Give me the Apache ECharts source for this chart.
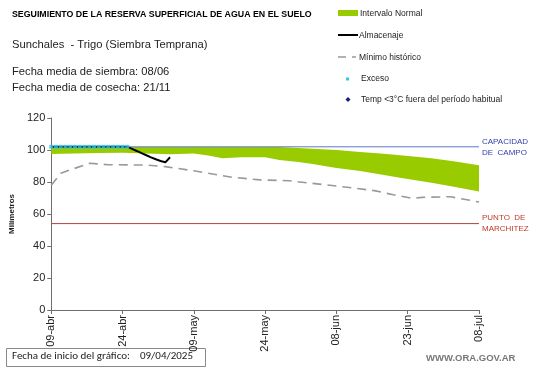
<!DOCTYPE html>
<html><head><meta charset="utf-8">
<script src="https://cdn.jsdelivr.net/npm/echarts@6/dist/echarts.min.js"></script>
<style>html,body{margin:0;padding:0;background:#fff}#c{width:541px;height:368px}</style>
</head><body><div id="c"></div>
<script>
// x axis: days since 09/04/2025
const tickLabels = ['09-abr','24-abr','09-may','24-may','08-jun','23-jun','08-jul'];
const tickStep = 15;

// Intervalo normal (green band)
const bandDays  = [0,5,10,15,20,25,30,33,36,40,45,48,52,55,60,65,70,74,80,85,90];
const bandLower = [97.5,97.8,98.2,98.3,97.8,97.3,97.8,96.5,94.8,95.4,95.4,93.8,92.5,91.3,88.8,86.8,84.3,82.3,79.5,76.8,74];
const bandUpper = [101.8,101.8,101.8,101.8,101.8,101.8,101.8,101.8,101.8,101.8,101.8,101.8,101.3,100.8,100,98.8,97.6,96.5,94.8,92.8,90.5];

// Mínimo histórico
const minDays = [0,2,8,12,20,24,30,38,44,50,60,68,72,76,78,84,90];
const minVals = [78,85.5,91.7,90.8,90.6,89.6,87,83,81.3,80.8,77.5,74.6,72,69.8,70.4,70.8,67.5];

// Almacenaje
const almDays = [0,1,2,3,4,5,6,7,8,9,10,11,12,13,14,15,16,17,18,19,20,21,22,23,24,25];
const almVals = [102,102,102,102,102,102,102,102,102,102,102,102,102,102,102,102,102,100.7,99.4,98,96.7,95.4,94.2,93.1,92.3,95.5];

// Exceso
const excesoDays = [0,1,2,3,4,5,6,7,8,9,10,11,12,13,14,15,16];
const excesoVals = [102,102,102,102,102,102,102,102,102,102,102,102,102,102,102,102,102];

// reference levels
const refDays = [0, 90];
const capacidadCampo = 102;
const puntoMarchitez = 54;

const zip = (a, b) => a.map((v, i) => [v, b[i]]);
const F = 'Liberation Sans, Arial, sans-serif';

const chart = echarts.init(document.getElementById('c'), null, {renderer: 'canvas'});
chart.setOption({
  animation: false,
  backgroundColor: '#fff',
  grid: {left: 33, right: 62, top: 118, bottom: 58, containLabel: false},
  xAxis: {
    type: 'value', min: 0, max: 90, interval: tickStep,
    axisLine: {show: true, lineStyle: {color: '#6e6e6e', width: 1}},
    axisTick: {show: true, length: 4, lineStyle: {color: '#6e6e6e'}},
    splitLine: {show: false},
    axisLabel: {
      rotate: 90, margin: 5, fontSize: 11, fontFamily: F, color: '#222',
      formatter: v => tickLabels[Math.round(v / tickStep)] || ''
    }
  },
  yAxis: {
    type: 'value', min: 0, max: 120, interval: 20,
    name: 'Milímetros', nameLocation: 'middle', nameRotate: 90, nameGap: 25,
    nameTextStyle: {fontSize: 8, fontWeight: 'bold', fontFamily: F, color: '#222'},
    axisLine: {show: true, lineStyle: {color: '#6e6e6e', width: 1}},
    axisTick: {show: true, length: 4, lineStyle: {color: '#6e6e6e'}},
    splitLine: {show: false},
    axisLabel: {fontSize: 11, fontFamily: F, color: '#222', margin: 6}
  },
  series: [
    {type: 'custom', silent: true, z: 1,
     data: [0],
     renderItem: (params, api) => {
       const pts = [];
       bandDays.forEach((d, i) => pts.push(api.coord([d, bandUpper[i]])));
       for (let i = bandDays.length - 1; i >= 0; i--) pts.push(api.coord([bandDays[i], bandLower[i]]));
       return {type: 'polygon', shape: {points: pts}, style: {fill: '#99cc00', stroke: null}};
     }},
    {type: 'line', data: zip(minDays, minVals), symbol: 'none',
     lineStyle: {color: '#999999', width: 1.6, type: [9, 6]}, z: 2},
    {type: 'line', data: zip(refDays, refDays.map(() => capacidadCampo)), symbol: 'none', z: 3, silent: true,
     itemStyle: {color: '#5a78c8'},
     lineStyle: {color: '#5a78c8', width: 1},
     endLabel: {show: true, distance: 3, formatter: 'CAPACIDAD\nDE  CAMPO',
                color: '#2f3fa8', fontSize: 8, lineHeight: 11, fontFamily: F}},
    {type: 'line', data: zip(refDays, refDays.map(() => puntoMarchitez)), symbol: 'none', z: 3, silent: true,
     itemStyle: {color: '#b0413e'},
     lineStyle: {color: '#b0413e', width: 1},
     endLabel: {show: true, distance: 3, formatter: 'PUNTO  DE\nMARCHITEZ',
                color: '#c0392b', fontSize: 8, lineHeight: 11, fontFamily: F}},
    {type: 'line', data: zip(almDays, almVals), symbol: 'none',
     lineStyle: {color: '#000', width: 2}, z: 4},
    {type: 'scatter', data: zip(excesoDays, excesoVals), symbol: 'rect', symbolSize: [4, 4],
     itemStyle: {color: '#33c6e8'}, z: 5}
  ],
  graphic: [
    {type: 'text', left: 12, top: 10, style: {text: 'SEGUIMIENTO DE LA RESERVA SUPERFICIAL DE AGUA EN EL SUELO', font: 'bold 8.8px ' + F, fill: '#000'}},
    {type: 'text', left: 12, top: 39, style: {text: 'Sunchales  - Trigo (Siembra Temprana)', font: '11.2px ' + F, fill: '#222'}},
    {type: 'text', left: 12, top: 66, style: {text: 'Fecha media de siembra: 08/06', font: '11.2px ' + F, fill: '#222'}},
    {type: 'text', left: 12, top: 82, style: {text: 'Fecha media de cosecha: 21/11', font: '11.2px ' + F, fill: '#222'}},
    // legend
    {type: 'rect', shape: {x: 338, y: 10, width: 20, height: 6}, style: {fill: '#99cc00'}},
    {type: 'text', left: 360, top: 9, style: {text: 'Intervalo Normal', font: '8.5px ' + F, fill: '#222'}},
    {type: 'line', shape: {x1: 338, y1: 35, x2: 358, y2: 35}, style: {stroke: '#000', lineWidth: 2}},
    {type: 'text', left: 359, top: 31, style: {text: 'Almacenaje', font: '8.5px ' + F, fill: '#222'}},
    {type: 'line', shape: {x1: 338, y1: 57, x2: 346, y2: 57}, style: {stroke: '#999', lineWidth: 1.5}},
    {type: 'line', shape: {x1: 352, y1: 57, x2: 356, y2: 57}, style: {stroke: '#999', lineWidth: 1.5}},
    {type: 'text', left: 359, top: 53, style: {text: 'Mínimo histórico', font: '8.5px ' + F, fill: '#222'}},
    {type: 'rect', shape: {x: 346, y: 77.5, width: 3, height: 3}, style: {fill: '#33c6e8'}},
    {type: 'text', left: 361, top: 74, style: {text: 'Exceso', font: '8.5px ' + F, fill: '#222'}},
    {type: 'polygon', shape: {points: [[348, 97], [350.5, 99.5], [348, 102], [345.5, 99.5]]}, style: {fill: '#1a1a8c'}},
    {type: 'text', left: 361, top: 95, style: {text: 'Temp <3°C fuera del período habitual', font: '8.5px ' + F, fill: '#222'}},
    // footer
    {type: 'rect', shape: {x: 6.5, y: 348.5, width: 199, height: 18}, style: {fill: '#fff', stroke: '#8a8a8a', lineWidth: 1}},
    {type: 'text', left: 12, top: 351, style: {text: 'Fecha de inicio del gráfico:    09/04/2025', font: '11px Carlito, Calibri, ' + F, fill: '#222'}},
    {type: 'text', left: 426, top: 353, style: {text: 'WWW.ORA.GOV.AR', font: 'bold 9.5px ' + F, fill: '#777'}}
  ]
});
</script></body></html>
